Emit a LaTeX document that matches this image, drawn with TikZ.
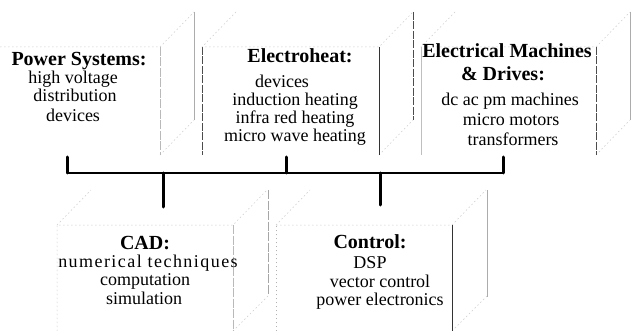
\documentclass[tikz,border=0pt]{standalone}
\usepackage{fontspec}
\setmainfont{Liberation Serif}
\begin{document}
\begin{tikzpicture}[x=1pt,y=-1pt,
  hidden/.style={draw=gray!40, line width=0.5pt, dash pattern=on 1.5pt off 2.5pt},
  softedge/.style={draw=gray!55, line width=0.6pt, dash pattern=on 9pt off 1.5pt},
  darkedge/.style={draw=black!80, line width=0.6pt},
  darkdash/.style={draw=black!70, line width=0.6pt, dash pattern=on 8pt off 1.5pt},
  backedge/.style={draw=gray!65, line width=0.8pt},
  ttl/.style={anchor=base, inner sep=0pt, font=\fontsize{20}{24}\selectfont\bfseries},
  txt/.style={anchor=base, inner sep=0pt, font=\fontsize{18}{21}\selectfont},
  bus/.style={draw=black, line width=1.8pt},
  tick/.style={draw=black, line width=3pt, line cap=round}]
\fill[white] (0,0) rectangle (631,331);
\clip (0,0) rectangle (631,331);

% ---------- upper row of slabs ----------
% Power Systems (front face x -16..160, y 47..155)
\draw[hidden] (-16,47) -- (160,47) -- (194,12);
\draw[hidden] (160,155) -- (194,120);
\draw[softedge] (160,47) -- (160,155);
\draw[backedge] (194,12) -- (194,120);

% Electroheat (front face x 202..379)
\draw[darkdash] (202,47) -- (202,155);
\draw[hidden] (236,12) -- (202,47) -- (379,47) -- (413,12);
\draw[hidden] (379,155) -- (413,120);
\draw[darkedge] (379,47) -- (379,155);
\draw[darkdash] (413,12) -- (413,120);

% Electrical Machines & Drives (front face x 421..596)
\draw[backedge, draw=gray!50] (421,47) -- (421,155);
\draw[hidden] (455,12) -- (421,47) -- (596,47) -- (630,12);
\draw[hidden] (596,155) -- (630,120);
\draw[darkdash] (596,47) -- (596,155);
\draw[backedge] (630,12) -- (630,120);

% ---------- lower row of slabs ----------
% CAD (front face x 57..233, y 225..331)
\draw[hidden] (57,331) -- (57,225) -- (233,225) -- (267,190);
\draw[hidden] (57,225) -- (91,190);
\draw[hidden] (233,331) -- (268,296);
\draw[softedge] (233,225) -- (233,331);
\draw[softedge, draw=gray!70] (268,190) -- (268,294);

% Control (front face x 276..452)
\draw[hidden, draw=gray!60] (276,331) -- (276,225);
\draw[hidden] (276,225) -- (452,225) -- (486,190);
\draw[hidden] (276,225) -- (310,190);
\draw[hidden] (452,331) -- (487,296);
\draw[darkedge] (452,225) -- (452,331);
\draw[backedge] (487,190) -- (487,297);

% ---------- texts ----------
\node[ttl] (ps-t) at (79,66)  {Power Systems:};
\node[txt] (ps-1) at (73,84)  {high voltage};
\node[txt] (ps-2) at (75,102) {distribution};
\node[txt] (ps-3) at (73,122) {devices};

\node[ttl] (eh-t) at (300,63)  {Electroheat:};
\node[txt] (eh-1) at (282,88)  {devices};
\node[txt] (eh-2) at (295,106) {induction heating};
\node[txt] (eh-3) at (295,124) {infra red heating};
\node[txt] (eh-4) at (295,142) {micro wave heating};

\node[ttl] (em-t) at (507,58)  {Electrical Machines};
\node[ttl] (em-u) at (503,81)  {\& Drives:};
\node[txt] (em-1) at (510,106) {dc ac pm machines};
\node[txt] (em-2) at (511,126) {micro motors};
\node[txt] (em-3) at (513,146) {transformers};

\node[ttl] (cad-t) at (145,249) {CAD:};
\node[txt] (cad-1) at (148,267) {\addfontfeatures{LetterSpace=8}numerical techniques};
\node[txt] (cad-2) at (145,285) {computation};
\node[txt] (cad-3) at (144,304) {simulation};

\node[ttl] (ctl-t) at (370,248) {Control:};
\node[txt] (ctl-1) at (370,268) {DSP};
\node[txt] (ctl-2) at (380,287) {vector control};
\node[txt] (ctl-3) at (380,305) {power electronics};

% ---------- connecting bus ----------
\coordinate (ps-in)  at (67,157);
\coordinate (eh-in)  at (286,157);
\coordinate (em-in)  at (503,157);
\coordinate (cad-in) at (163,207);
\coordinate (ctl-in) at (380,205);
\coordinate (bus-l)  at (67,173);
\coordinate (bus-r)  at (503,173);

\draw[bus] (bus-l) -- (bus-r);
\draw[tick] (ps-in)  -- (ps-in |- bus-l);
\draw[tick] (eh-in)  -- (eh-in |- bus-l);
\draw[tick] (em-in)  -- (em-in |- bus-l);
\draw[tick] (cad-in) -- (cad-in |- bus-l);
\draw[tick] (ctl-in) -- (ctl-in |- bus-l);
\end{tikzpicture}
\end{document}
